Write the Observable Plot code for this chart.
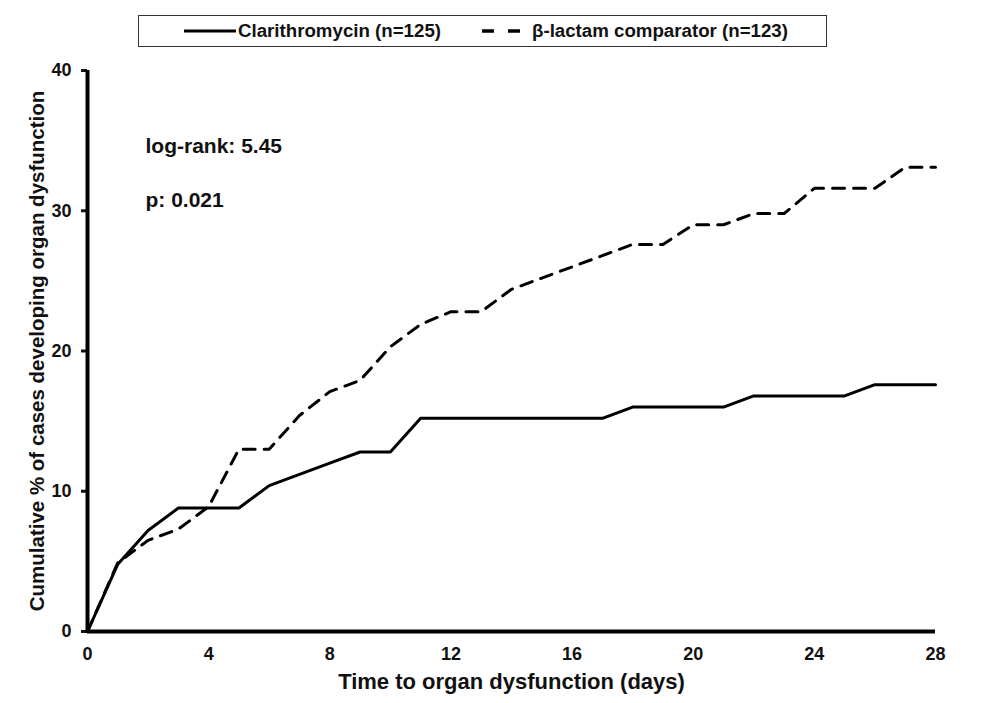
<!DOCTYPE html>
<html>
<head>
<meta charset="utf-8">
<script src="https://cdn.jsdelivr.net/npm/d3@7"></script>
<script src="https://cdn.jsdelivr.net/npm/@observablehq/plot@0.6"></script>
<style>
  html, body { margin: 0; padding: 0; background: #fff; }
  body { width: 985px; height: 703px; overflow: hidden; font-family: "Liberation Sans", Arial, sans-serif; font-weight: bold; }
  #legend { position: relative; height: 56px; }
  #legend .box { position: absolute; left: 138px; top: 15px; width: 687px; height: 30px; border: 1px solid #333; box-sizing: content-box; }
  #legend .item { position: absolute; top: 0; height: 30px; display: flex; align-items: center; font-size: 18.7px; color: #111; white-space: nowrap; }
</style>
</head>
<body>
<div id="legend">
  <div class="box">
    <div class="item" style="left:45px;"><svg width="52" height="10" style="margin-right:2px"><line x1="0" y1="5" x2="52" y2="5" stroke="#000" stroke-width="3"/></svg><span id="lab0"></span></div>
    <div class="item" style="left:343px;"><svg width="38" height="10" style="margin-right:12px"><line x1="0" y1="5" x2="38" y2="5" stroke="#000" stroke-width="3.5" stroke-dasharray="12,14"/></svg><span id="lab1"></span></div>
  </div>
</div>
<div id="chart"></div>
<script>
const days = [0,1,2,3,4,5,6,7,8,9,10,11,12,13,14,15,16,17,18,19,20,21,22,23,24,25,26,27,28];
const clarithromycin = [0,4.8,7.2,8.8,8.8,8.8,10.4,11.2,12.0,12.8,12.8,15.2,15.2,15.2,15.2,15.2,15.2,15.2,16.0,16.0,16.0,16.0,16.8,16.8,16.8,16.8,17.6,17.6,17.6];
const comparator = [0,4.9,6.5,7.3,8.9,13.0,13.0,15.4,17.1,17.9,20.3,21.9,22.8,22.8,24.4,25.2,26.0,26.8,27.6,27.6,29.0,29.0,29.8,29.8,31.6,31.6,31.6,33.1,33.1];
const seriesNames = ["Clarithromycin (n=125)", "β-lactam comparator (n=123)"];
const xTicks = [0,4,8,12,16,20,24,28];
const yTicks = [0,10,20,30,40];
const annotations = ["log-rank: 5.45", "p: 0.021"];
const xLabel = "Time to organ dysfunction (days)";
const yLabel = "Cumulative % of cases developing organ dysfunction";

document.getElementById("lab0").textContent = seriesNames[0];
document.getElementById("lab1").textContent = seriesNames[1];

const rows = [];
days.forEach((d, i) => {
  rows.push({day: d, value: clarithromycin[i], series: seriesNames[0]});
  rows.push({day: d, value: comparator[i], series: seriesNames[1]});
});

const font = "'Liberation Sans', Arial, sans-serif";

const chart = Plot.plot({
  width: 985,
  height: 647,
  marginLeft: 87,
  marginRight: 50,
  marginTop: 14,
  marginBottom: 72,
  style: {fontFamily: font, fontWeight: "bold", color: "#111", background: "#fff"},
  x: {domain: [0, 28]},
  y: {domain: [0, 40]},
  marks: [
    Plot.axisX({ticks: xTicks, tickSize: 0, tickPadding: 16, fontSize: 18, label: null}),
    Plot.axisY({ticks: yTicks, tickSize: 6, tickPadding: 10, fontSize: 18, strokeWidth: 3, label: null}),
    Plot.line(rows.filter(d => d.series === seriesNames[0]), {x: "day", y: "value", stroke: "#000", strokeWidth: 3, strokeLinejoin: "miter"}),
    Plot.line(rows.filter(d => d.series === seriesNames[1]), {x: "day", y: "value", stroke: "#000", strokeWidth: 3, strokeDasharray: "12,9"}),
    Plot.ruleX([0], {stroke: "#000", strokeWidth: 4}),
    Plot.ruleY([0], {stroke: "#000", strokeWidth: 4}),
    Plot.text([annotations[0]], {text: d => d, frameAnchor: "top-left", dx: 58, dy: 76, textAnchor: "start", lineAnchor: "middle", fontSize: 21, fill: "#111"}),
    Plot.text([annotations[1]], {text: d => d, frameAnchor: "top-left", dx: 58, dy: 130, textAnchor: "start", lineAnchor: "middle", fontSize: 21, fill: "#111"}),
    Plot.text([xLabel], {text: d => d, frameAnchor: "bottom", dy: 50, textAnchor: "middle", lineAnchor: "middle", fontSize: 22, fill: "#111"}),
    Plot.text([yLabel], {text: d => d, frameAnchor: "left", dx: -50, rotate: -90, textAnchor: "middle", lineAnchor: "middle", fontSize: 20.5, fill: "#111"})
  ]
});
document.getElementById("chart").appendChild(chart);
</script>
</body>
</html>
